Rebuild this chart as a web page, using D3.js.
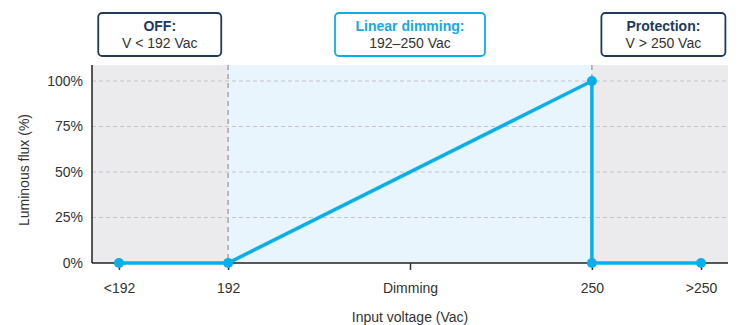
<!DOCTYPE html>
<html>
<head>
<meta charset="utf-8">
<script src="https://cdn.jsdelivr.net/npm/d3@7"></script>
<style>
  body { margin: 0; background: #fff; }
  svg { font-family: "Liberation Sans", Arial, sans-serif; }
</style>
</head>
<body>
<div id="chart"></div>
<script>
// Dữ liệu
const xTickValues = [174.6, 192, 221, 250, 267.4];
const xTickLabels = ["<192", "192", "Dimming", "250", ">250"];
const yTicks = [0, 25, 50, 75, 100];
const curveV = [174.6, 192, 250, 250, 267.4];
const curveFlux = [0, 0, 100, 0, 0];
const dotV = [174.6, 192, 250, 250, 267.4];
const dotFlux = [0, 0, 100, 0, 0];
const zoneNames = ["off", "dim", "prot"];
const zoneStart = [170.3, 192, 250];
const zoneEnd = [192, 250, 271.7];
const boxTitles = ["OFF:", "Linear dimming:", "Protection:"];
const boxLines = ["V < 192 Vac", "192–250 Vac", "V > 250 Vac"];
const boxCenterV = [181.1, 221, 261.4];
const boxWidths = [123, 150, 124];

const width = 738, height = 325;
const margin = { top: 65, right: 10, bottom: 62, left: 92 };
const innerW = width - margin.left - margin.right;
const innerH = height - margin.top - margin.bottom;

const blue = "#0aaeea";
const navy = "#213a5c";

const svg = d3.select("#chart").append("svg")
    .attr("width", width)
    .attr("height", height);

const g = svg.append("g")
    .attr("transform", `translate(${margin.left},${margin.top})`);

const x = d3.scaleLinear().domain([170.3, 271.7]).range([0, innerW]);
const y = d3.scaleLinear().domain([0, 100]).range([innerH, 16]);

// Vùng nền
const zoneFill = { off: "#ebebee", dim: "#e8f5fc", prot: "#ebebee" };
g.selectAll("rect.zone")
    .data(zoneNames)
    .join("rect")
    .attr("class", "zone")
    .attr("x", (d, i) => x(zoneStart[i]))
    .attr("width", (d, i) => x(zoneEnd[i]) - x(zoneStart[i]))
    .attr("y", 0)
    .attr("height", innerH)
    .attr("fill", d => zoneFill[d]);

// Lưới ngang
g.selectAll("line.grid")
    .data(yTicks.filter(d => d > 0))
    .join("line")
    .attr("x1", 0).attr("x2", innerW)
    .attr("y1", d => y(d)).attr("y2", d => y(d))
    .attr("stroke", "#c4c4c8")
    .attr("stroke-dasharray", "4,3");

// Đường chia vùng
g.selectAll("line.divider")
    .data([192, 250])
    .join("line")
    .attr("x1", d => x(d)).attr("x2", d => x(d))
    .attr("y1", 0).attr("y2", innerH)
    .attr("stroke", "#9a9a9e")
    .attr("stroke-width", 1.3)
    .attr("stroke-dasharray", "5,4");

// Trục x
const xAxis = g.append("g")
    .attr("transform", `translate(0,${innerH})`)
    .call(d3.axisBottom(x)
        .tickValues(xTickValues)
        .tickSize(7)
        .tickPadding(13)
        .tickFormat((d, i) => xTickLabels[i]));
xAxis.select(".domain").attr("stroke", "#222").attr("stroke-width", 1.5)
    .attr("d", `M0,0H${innerW}`);
xAxis.selectAll(".tick line").attr("stroke", "#333").attr("stroke-width", 1.5);
xAxis.selectAll(".tick text").attr("fill", "#333").style("font-size", "14px");

// Trục y
const yAxis = g.append("g")
    .call(d3.axisLeft(y)
        .tickValues(yTicks)
        .tickSize(0)
        .tickPadding(9)
        .tickFormat(d => d + "%"));
yAxis.select(".domain").attr("stroke", "#222").attr("stroke-width", 1.5)
    .attr("d", `M0,0V${innerH}`);
yAxis.selectAll(".tick text").attr("fill", "#333").style("font-size", "14px");

// Đường đặc tính
const line = d3.line()
    .x((d, i) => x(curveV[i]))
    .y((d, i) => y(curveFlux[i]));
g.append("path")
    .datum(curveV)
    .attr("d", line)
    .attr("fill", "none")
    .attr("stroke", blue)
    .attr("stroke-width", 3.5)
    .attr("stroke-linejoin", "miter");

g.selectAll("circle.dot")
    .data(dotV)
    .join("circle")
    .attr("cx", d => x(d))
    .attr("cy", (d, i) => y(dotFlux[i]))
    .attr("r", 5)
    .attr("fill", blue);

// Hộp chú thích
const boxColor = [navy, blue, navy];
const titleColor = [navy, "#16a9e3", navy];
const boxes = svg.selectAll("g.box")
    .data(boxTitles)
    .join("g")
    .attr("class", "box")
    .attr("transform", (d, i) => `translate(${margin.left + x(boxCenterV[i])},0)`);

boxes.append("rect")
    .attr("x", (d, i) => -boxWidths[i] / 2)
    .attr("y", 13)
    .attr("width", (d, i) => boxWidths[i])
    .attr("height", 43)
    .attr("rx", 4)
    .attr("fill", "#fff")
    .attr("stroke", (d, i) => boxColor[i])
    .attr("stroke-width", 1.8);

boxes.append("text")
    .attr("y", 31)
    .attr("text-anchor", "middle")
    .attr("fill", (d, i) => titleColor[i])
    .style("font-size", "14px")
    .style("font-weight", "bold")
    .text(d => d);

boxes.append("text")
    .attr("y", 48)
    .attr("text-anchor", "middle")
    .attr("fill", "#333")
    .style("font-size", "14px")
    .text((d, i) => boxLines[i]);

// Tiêu đề trục
svg.append("text")
    .attr("transform", `translate(29,${margin.top + innerH / 2 + 6}) rotate(-90)`)
    .attr("text-anchor", "middle")
    .attr("fill", "#333")
    .style("font-size", "14px")
    .text("Luminous flux (%)");

svg.append("text")
    .attr("x", margin.left + x(221))
    .attr("y", 322)
    .attr("text-anchor", "middle")
    .attr("fill", "#333")
    .style("font-size", "14px")
    .text("Input voltage (Vac)");
</script>
</body>
</html>
